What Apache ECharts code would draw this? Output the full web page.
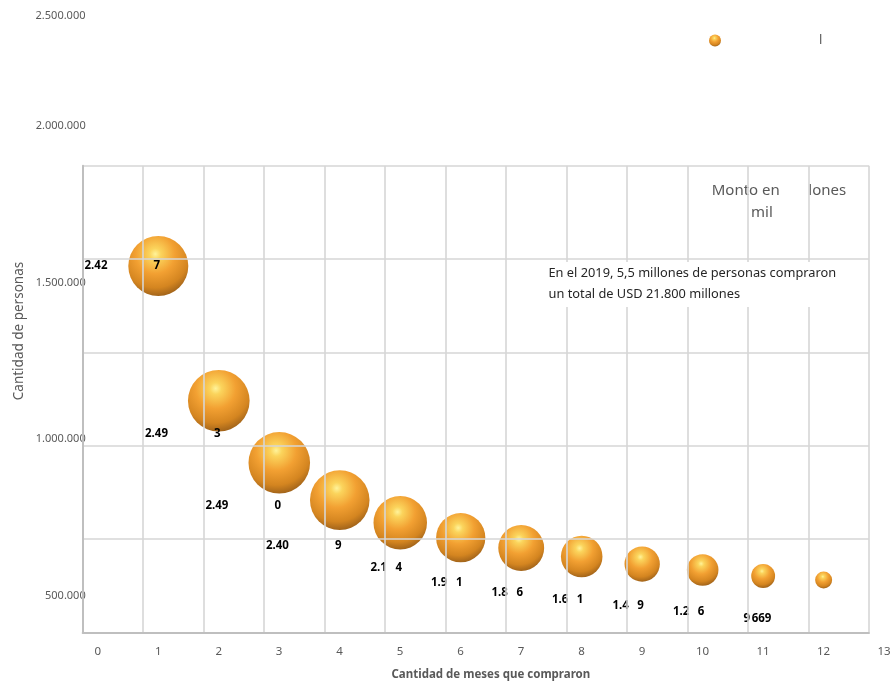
<!DOCTYPE html>
<html>
<head>
<meta charset="utf-8">
<script src="https://cdn.jsdelivr.net/npm/echarts@6/dist/echarts.min.js"></script>
<style>
  html, body { margin: 0; padding: 0; background: #ffffff; }
  #chart { width: 894px; height: 686px; }
</style>
</head>
<body>
<div id="chart"></div>
<script>
// Compras por cantidad de meses: personas (eje Y) y monto en millones (tamaño de burbuja)
const months = [1, 2, 3, 4, 5, 6, 7, 8, 9, 10, 11, 12];
const personas = [1553000, 1123000, 925000, 806000, 734000, 686000, 653000, 626000, 602000, 583000, 564000, 551000];
const montoMillones = [2427, 2493, 2490, 2409, 2164, 1991, 1856, 1681, 1429, 1276, 966, 688];
const labelHead = ['2.42', '2.49', '2.49', '2.40', '2.1', '1.9', '1.8', '1.6', '1.4', '1.2', '9', ''];
const labelTail = ['7', '3', '0', '9', '4', '1', '6', '1', '9', '6', '669', ''];
const yTopTick = 2500000;

// label layout (pixels)
const labelDrop = [0, 33, 43, 46, 45, 45, 45, 43, 42, 42, 43, 0];
const labelGap = [46, 46, 46, 46, 8.5, 8.5, 8.5, 8.5, 8.5, 8.5, 1.5, 0];

const GRAY = '#595959';
const FONT = '"Noto Sans", "Open Sans", sans-serif';
const fmtThousands = v => String(Math.round(v)).replace(/\B(?=(\d{3})+(?!\d))/g, '.');

const bubbleFill = {
  type: 'radial', x: 0.45, y: 0.3, r: 0.78,
  colorStops: [
    { offset: 0, color: '#fff39a' },
    { offset: 0.12, color: '#fbd45c' },
    { offset: 0.42, color: '#f2a032' },
    { offset: 0.72, color: '#d48520' },
    { offset: 0.9, color: '#a2641a' },
    { offset: 1, color: '#6a4210' }
  ]
};

const labelFont = { fontFamily: FONT, fontWeight: 'bold', fontSize: 11.5, color: '#000000' };

const seriesData = months.map((m, i) => {
  const tail = labelTail[i];
  return {
    value: [m, personas[i], montoMillones[i]],
    label: {
      show: labelHead[i] !== '',
      formatter: '{h|' + labelHead[i] + '}{t|' + tail + '}',
      offset: [tail.length * 3.25 - 1.5, labelDrop[i]],
      rich: {
        h: labelFont,
        t: Object.assign({}, labelFont, { padding: [0, 0, 0, labelGap[i]] })
      }
    }
  };
});

const xRange = { min: -0.25, max: 12.75 };
const chart = echarts.init(document.getElementById('chart'), null, { renderer: 'canvas' });

chart.setOption({
  animation: false,
  backgroundColor: '#ffffff',
  grid: [
    { left: 82.7, right: 25, top: 165.7, bottom: 53.7 },
    { left: 82.7, right: 25, top: 126, bottom: 90 }
  ],
  legend: {
    left: 704, top: 29,
    itemWidth: 12, itemHeight: 12,
    icon: 'circle',
    formatter: () => 'l',
    textStyle: { color: GRAY, fontFamily: FONT, fontSize: 13, padding: [0, 0, 0, 93] },
    data: ['Monto en millones']
  },
  xAxis: [
    {
      gridIndex: 0, type: 'value', min: xRange.min, max: xRange.max, interval: 1, zlevel: 1, z: 3,
      axisLine: { show: true, onZero: false, lineStyle: { color: '#bfbfbf', width: 2 } },
      axisTick: { show: false },
      splitLine: { show: true, lineStyle: { color: '#d6d6d6', width: 1.6 } },
      axisLabel: {
        color: GRAY, fontFamily: FONT, fontSize: 11.5, margin: 13, align: 'center',
        padding: [0, 0, 0, 30],
        formatter: v => String(Math.round(v + 0.25))
      },
      name: 'Cantidad de meses que compraron',
      nameLocation: 'middle', nameGap: 36,
      nameTextStyle: { color: GRAY, fontFamily: FONT, fontWeight: 'bold', fontSize: 11.5, padding: [0, 0, 0, 30] }
    },
    { gridIndex: 1, type: 'value', min: xRange.min, max: xRange.max, show: false }
  ],
  yAxis: [
    {
      gridIndex: 0, type: 'value', min: 0, max: 5, interval: 1, zlevel: 1, z: 3,
      axisLine: { show: true, onZero: false, lineStyle: { color: '#bfbfbf', width: 2 } },
      axisTick: { show: false },
      axisLabel: { show: false },
      splitLine: { show: true, lineStyle: { color: '#d6d6d6', width: 1.6 } }
    },
    {
      gridIndex: 1, type: 'value', min: 500000, max: 2000000, interval: 500000,
      axisLine: { show: false }, axisTick: { show: false }, splitLine: { show: false },
      axisLabel: { color: GRAY, fontFamily: FONT, fontSize: 11, margin: -3, formatter: fmtThousands }
    }
  ],
  series: [{
    name: 'Monto en millones',
    type: 'scatter',
    xAxisIndex: 1, yAxisIndex: 1,
    clip: false,
    z: 2,
    symbol: 'circle',
    symbolSize: v => v[2] * 60 / 2427,
    itemStyle: { color: bubbleFill, opacity: 1 },
    label: { show: true, position: 'inside', align: 'right', verticalAlign: 'middle' },
    emphasis: { disabled: true },
    data: seriesData
  }],
  graphic: [
    { type: 'text', x: 85.5, y: 15.7, z: 5,
      style: { text: fmtThousands(yTopTick), fill: GRAY, font: '11px ' + FONT, align: 'right', verticalAlign: 'middle' } },
    { type: 'text', x: 19, y: 331, rotation: Math.PI / 2, z: 5,
      style: { text: 'Cantidad de personas', fill: GRAY, font: '13.5px ' + FONT, align: 'center', verticalAlign: 'middle' } },
    { type: 'text', x: 711.7, y: 190.7, z: 1,
      style: { text: 'Monto en', fill: GRAY, font: '15px ' + FONT, align: 'left', verticalAlign: 'middle' } },
    { type: 'text', x: 808.3, y: 190.7, z: 1,
      style: { text: 'lones', fill: GRAY, font: '15px ' + FONT, align: 'left', verticalAlign: 'middle' } },
    { type: 'text', x: 751, y: 212.3, z: 1,
      style: { text: 'mil', fill: GRAY, font: '15px ' + FONT, align: 'left', verticalAlign: 'middle' } },
    { type: 'rect', zlevel: 1, z: 20, shape: { x: 542, y: 262, width: 322, height: 45 }, style: { fill: '#ffffff' } },
    { type: 'text', zlevel: 1, x: 548.5, y: 273.5, z: 21,
      style: { text: 'En el 2019, 5,5 millones de personas compraron', fill: '#262626', font: '12.8px ' + FONT, align: 'left', verticalAlign: 'middle' } },
    { type: 'text', zlevel: 1, x: 548.5, y: 294.5, z: 21,
      style: { text: 'un total de USD 21.800 millones', fill: '#262626', font: '12.8px ' + FONT, align: 'left', verticalAlign: 'middle' } }
  ]
});
</script>
</body>
</html>
